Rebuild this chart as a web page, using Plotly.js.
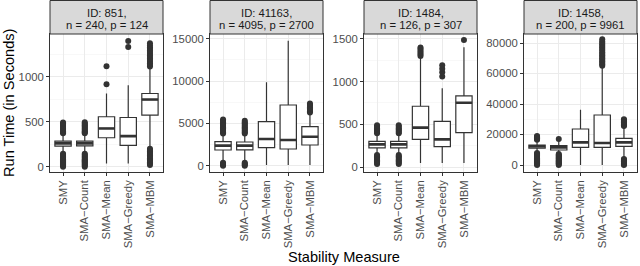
<!DOCTYPE html>
<html>
<head>
<meta charset="utf-8">
<script src="https://cdn.plot.ly/plotly-3.0.1.min.js"></script>
<style>
html,body{margin:0;padding:0;background:#fff;}
#chart{width:640px;height:266px;}
</style>
</head>
<body>
<div id="chart"></div>
<script>
// ---------- data ----------
const categories = ["SMY", "SMA\u2212Count", "SMA\u2212Mean", "SMA\u2212Greedy", "SMA\u2212MBM"];

const stripLine1 = ["ID: 851,", "ID: 41163,", "ID: 1484,", "ID: 1458,"];
const stripLine2 = ["n = 240, p = 124", "n = 4095, p = 2700", "n = 126, p = 307", "n = 200, p = 9961"];

// Panel 1: ID 851
const p1_q1     = [230, 232, 322, 238, 574];
const p1_median = [260, 260, 426, 340, 748];
const p1_q3     = [285, 285, 556, 548, 815];
const p1_lower  = [150, 150, 35, 35, 220];
const p1_upper  = [365, 365, 815, 907, 1100];
const p1_outliers = [
  [0, 12, 24, 36, 48, 60, 72, 84, 96, 108, 120, 132, 144, 372, 384, 396, 408, 420, 432, 444, 456, 468, 480, 492],
  [0, 12, 24, 36, 48, 60, 72, 84, 96, 108, 120, 132, 144, 372, 384, 396, 408, 420, 432, 444, 456, 468, 480, 495],
  [919, 1119],
  [1333, 1400],
  [20, 35, 50, 65, 80, 95, 110, 125, 140, 155, 170, 185, 200, 1115, 1133, 1151, 1169, 1187, 1205, 1223, 1241, 1259, 1277, 1295, 1313, 1331, 1349, 1374]
];

// Panel 2: ID 41163
const p2_q1     = [1855, 1870, 2128, 1974, 2447];
const p2_median = [2368, 2368, 3156, 3038, 3428];
const p2_q3     = [2841, 2800, 5200, 7175, 4610];
const p2_lower  = [400, 400, 80, 80, 80];
const p2_upper  = [3700, 3700, 9860, 14775, 6200];
const p2_outliers = [
  [0, 120, 240, 360, 3800, 3950, 4100, 4250, 4400, 4550, 4700, 4850, 5000, 5150, 5300, 5450],
  [0, 120, 240, 360, 3800, 3950, 4100, 4250, 4400, 4550, 4700, 4850, 5000, 5150, 5300],
  [],
  [],
  [6300, 6450, 6600, 6750, 6900, 7050, 7200, 7350]
];

// Panel 3: ID 1484
const p3_q1     = [225, 225, 324, 238, 402];
const p3_median = [265, 265, 461, 324, 753];
const p3_q3     = [300, 300, 711, 535, 832];
const p3_lower  = [150, 150, 47, 47, 47];
const p3_upper  = [385, 385, 1280, 921, 1401];
const p3_outliers = [
  [35, 50, 65, 80, 95, 110, 125, 140, 395, 410, 425, 440, 455, 470, 490],
  [35, 50, 65, 80, 95, 110, 125, 140, 395, 410, 425, 440, 455, 470, 490],
  [1300, 1320, 1340, 1360, 1380, 1400],
  [1060, 1110, 1150, 1190],
  [1487]
];

// Panel 4: ID 1458
const p4_q1     = [11000, 9840, 11600, 11600, 12240];
const p4_median = [12200, 11590, 14860, 14430, 14860];
const p4_q3     = [13100, 12680, 23600, 32800, 17490];
const p4_lower  = [8000, 8000, 0, 0, 4600];
const p4_upper  = [16000, 16000, 36300, 64500, 25000];
const p4_outliers = [
  [0, 600, 1200, 1800, 2400, 3000, 3600, 4200, 4800, 5400, 6000, 6600, 7200, 7800, 16500, 17000, 17500, 18000, 18500, 19000],
  [0, 600, 1200, 1800, 2400, 3000, 3600, 4200, 4800, 5400, 6000, 6600, 7200, 17050],
  [],
  [65000, 66000, 67000, 68000, 69000, 70000, 71000, 72000, 73000, 74000, 75000, 76000, 77000, 78000, 79000, 80000, 81000, 82500],
  [0, 500, 1000, 1500, 2000, 2500, 3000, 3500, 4000, 25500, 26000, 26500, 27000, 27500, 28000, 28500, 29000, 29500, 30000]
];

// ---------- layout constants ----------
const W = 640, H = 266;
const panelPx = [[50, 163], [210, 323], [364, 477], [524, 637]];
const plotTop = 34, plotBottom = 171.7, stripTop = 0.5;
const yRanges = [[-56, 1478], [-709, 15567], [-55, 1557], [-4390, 85900]];
const yDticks = [500, 5000, 500, 20000];

const panels = [
  {q1: p1_q1, med: p1_median, q3: p1_q3, lo: p1_lower, hi: p1_upper, out: p1_outliers},
  {q1: p2_q1, med: p2_median, q3: p2_q3, lo: p2_lower, hi: p2_upper, out: p2_outliers},
  {q1: p3_q1, med: p3_median, q3: p3_q3, lo: p3_lower, hi: p3_upper, out: p3_outliers},
  {q1: p4_q1, med: p4_median, q3: p4_q3, lo: p4_lower, hi: p4_upper, out: p4_outliers}
];

const dark = '#333333';
const font = 'Liberation Sans, Arial, Helvetica, sans-serif';
const tickSize = 11.3, titleSize = 14.6;
const boxWidth = 0.75;
const positions = categories.map((c, i) => i);

const traces = [];
const layout = {
  width: W, height: H,
  margin: {l: 0, r: 0, t: 0, b: 0},
  paper_bgcolor: 'white', plot_bgcolor: 'white',
  showlegend: false,
  font: {family: font},
  shapes: [], annotations: []
};

const yDomain = [(H - plotBottom) / H, (H - plotTop) / H];

panels.forEach((p, k) => {
  const sfx = k === 0 ? '' : String(k + 1);
  const xa = 'x' + sfx, ya = 'y' + sfx;

  traces.push({
    type: 'box', x: positions,
    q1: p.q1, median: p.med, q3: p.q3, lowerfence: p.lo, upperfence: p.hi,
    xaxis: xa, yaxis: ya,
    fillcolor: 'white', line: {color: dark, width: 1.2},
    whiskerwidth: 0, width: boxWidth, boxpoints: false, hoverinfo: 'skip'
  });

  // thicker median line (ggplot fatten)
  const mx = [], my = [];
  positions.forEach((pos, i) => {
    mx.push(pos - boxWidth / 2, pos + boxWidth / 2, null);
    my.push(p.med[i], p.med[i], null);
  });
  traces.push({
    type: 'scatter', mode: 'lines', x: mx, y: my, xaxis: xa, yaxis: ya,
    line: {color: dark, width: 2.6}, hoverinfo: 'skip'
  });

  // outliers
  const ox = [], oy = [];
  p.out.forEach((arr, i) => arr.forEach(v => { ox.push(positions[i]); oy.push(v); }));
  traces.push({
    type: 'scatter', mode: 'markers', x: ox, y: oy, xaxis: xa, yaxis: ya,
    marker: {color: dark, size: 6}, hoverinfo: 'skip'
  });

  const xd = [panelPx[k][0] / W, panelPx[k][1] / W];
  layout['xaxis' + sfx] = {
    domain: xd, anchor: ya, range: [-0.6, categories.length - 0.4],
    tickmode: 'array', tickvals: positions, ticktext: categories, tickangle: -90,
    showgrid: true, gridcolor: '#EBEBEB', gridwidth: 1, zeroline: false,
    showline: true, mirror: true, linecolor: dark, linewidth: 1,
    ticks: 'outside', ticklen: 3, tickcolor: dark, tickwidth: 1,
    tickfont: {size: tickSize, color: '#4D4D4D', family: font}, fixedrange: true
  };
  layout['yaxis' + sfx] = {
    domain: yDomain, anchor: xa, range: yRanges[k],
    dtick: yDticks[k], tick0: 0, tickformat: 'd',
    showgrid: true, gridcolor: '#EBEBEB', gridwidth: 1, zeroline: false,
    minor: {dtick: yDticks[k] / 2, tick0: 0, showgrid: true, gridcolor: '#F4F4F4', gridwidth: 0.6, ticks: ''},
    showline: true, mirror: true, linecolor: dark, linewidth: 1,
    ticks: 'outside', ticklen: 3, tickcolor: dark, tickwidth: 1,
    tickfont: {size: tickSize, color: '#4D4D4D', family: font}, fixedrange: true
  };

  // strip
  layout.shapes.push({
    type: 'rect', xref: 'paper', yref: 'paper',
    x0: xd[0], x1: xd[1], y0: yDomain[1], y1: (H - stripTop) / H,
    fillcolor: '#D9D9D9', line: {color: dark, width: 1}, layer: 'above'
  });
  const cx = (xd[0] + xd[1]) / 2;
  layout.annotations.push({
    xref: 'paper', yref: 'paper', x: cx, y: (H - 12.7) / H, text: stripLine1[k],
    showarrow: false, xanchor: 'center', yanchor: 'middle',
    font: {size: tickSize, color: '#1A1A1A', family: font}
  });
  layout.annotations.push({
    xref: 'paper', yref: 'paper', x: cx, y: (H - 25) / H, text: stripLine2[k],
    showarrow: false, xanchor: 'center', yanchor: 'middle',
    font: {size: tickSize, color: '#1A1A1A', family: font}
  });
});

layout.annotations.push({
  xref: 'paper', yref: 'paper', x: 9 / W, y: (H - 103) / H,
  text: 'Run Time (in Seconds)', textangle: -90, showarrow: false,
  xanchor: 'center', yanchor: 'middle', font: {size: titleSize, color: '#000000', family: font}
});
layout.annotations.push({
  xref: 'paper', yref: 'paper', x: 343.5 / W, y: (H - 257) / H,
  text: 'Stability Measure', showarrow: false,
  xanchor: 'center', yanchor: 'middle', font: {size: titleSize, color: '#000000', family: font}
});

Plotly.newPlot('chart', traces, layout, {staticPlot: true, displayModeBar: false});
</script>
</body>
</html>
